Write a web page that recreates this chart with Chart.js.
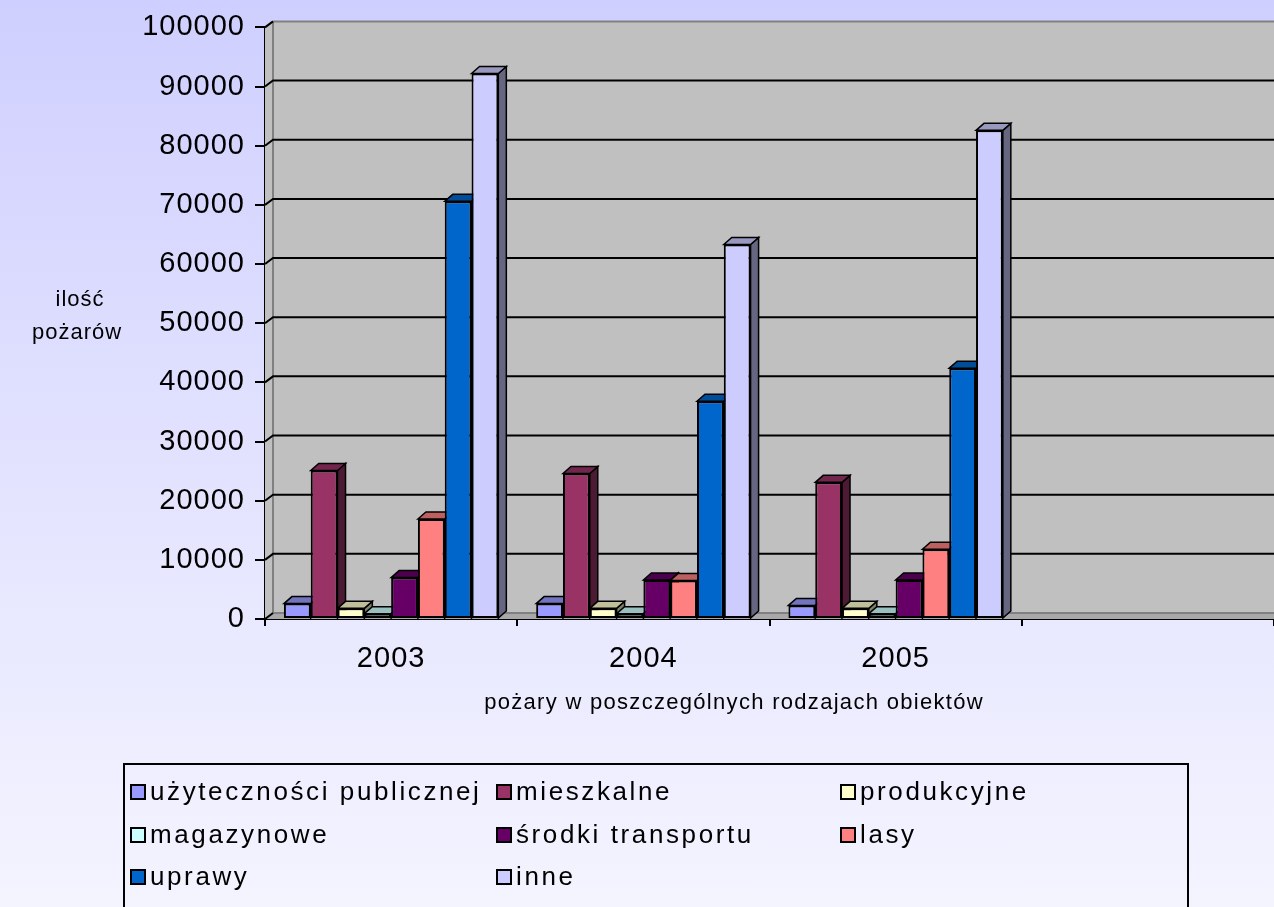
<!DOCTYPE html>
<html><head><meta charset="utf-8">
<script src="https://cdn.jsdelivr.net/npm/chart.js@4.4.1/dist/chart.umd.min.js"></script>
<style>
html,body{margin:0;padding:0;width:1274px;height:907px;overflow:hidden;
background:linear-gradient(to bottom,#CFCFFF 0%,#E2E2FF 50%,#F4F4FF 100%);}
canvas{display:block}
</style></head><body>
<canvas id="c" width="1274" height="907"></canvas>
<script>
// ---- data ----
const categories = ['2003', '2004', '2005', ''];
const seriesNames = ['użyteczności publicznej', 'mieszkalne', 'produkcyjne', 'magazynowe',
  'środki transportu', 'lasy', 'uprawy', 'inne'];
const uzytecznosciPublicznej = [2600, 2600, 2300];
const mieszkalne = [25100, 24600, 23100];
const produkcyjne = [1800, 1800, 1800];
const magazynowe = [900, 900, 900];
const srodkiTransportu = [7000, 6600, 6600];
const lasy = [16900, 6500, 11800];
const uprawy = [70600, 36800, 42400];
const inne = [92200, 63300, 82600];
const yTickValues = [0, 10000, 20000, 30000, 40000, 50000, 60000, 70000, 80000, 90000, 100000];
const yTitleLines = ['ilość', 'pożarów'];
const xTitle = 'pożary w poszczególnych rodzajach obiektów';
const seriesColors = ['#9999FF', '#993366', '#FFFFCC', '#CCFFFF', '#660066', '#FF8080', '#0066CC', '#CCCCFF'];

const seriesValues = [uzytecznosciPublicznej, mieszkalne, produkcyjne, magazynowe,
  srodkiTransportu, lasy, uprawy, inne];

function shade(hex, f) {
  const n = parseInt(hex.slice(1), 16);
  const r = Math.round(((n >> 16) & 255) * f), g = Math.round(((n >> 8) & 255) * f), b = Math.round((n & 255) * f);
  return `rgb(${r},${g},${b})`;
}

const FONT = '"Liberation Sans", Arial, sans-serif';
const DX = 8, DY = -6, BDY = -7;

function poly(ctx, pts, fill, stroke, lw) {
  ctx.beginPath();
  ctx.moveTo(pts[0][0], pts[0][1]);
  for (let i = 1; i < pts.length; i++) ctx.lineTo(pts[i][0], pts[i][1]);
  ctx.closePath();
  if (fill) { ctx.fillStyle = fill; ctx.fill(); }
  if (stroke) { ctx.strokeStyle = stroke; ctx.lineWidth = lw || 1; ctx.stroke(); }
}

const spacingPlugin = {
  id: 'spacing',
  beforeDraw(chart) { chart.ctx.letterSpacing = '1px'; }
};

const depthPlugin = {
  id: 'depth',
  beforeDatasetsDraw(chart) {
    const { ctx, chartArea: a, scales: { x, y } } = chart;
    ctx.save();
    ctx.lineJoin = 'miter';
    // back wall
    ctx.fillStyle = '#C0C0C0';
    ctx.fillRect(a.left + DX, a.top + DY, a.right - a.left - DX, a.bottom - a.top);
    // left wall
    poly(ctx, [[a.left, a.top], [a.left + DX, a.top + DY], [a.left + DX, a.bottom + DY], [a.left, a.bottom]], '#C0C0C0');
    // floor
    poly(ctx, [[a.left, a.bottom], [a.left + DX, a.bottom + DY], [a.right + 2, a.bottom + DY], [a.right + 2, a.bottom]], '#A8A8A8');
    ctx.strokeStyle = '#808080'; ctx.lineWidth = 2;
    ctx.beginPath();
    ctx.moveTo(a.left + DX, a.top + DY); ctx.lineTo(a.left + DX, a.bottom + DY); ctx.lineTo(a.right, a.bottom + DY);
    ctx.moveTo(a.left + DX, a.top + DY); ctx.lineTo(a.right, a.top + DY);
    ctx.stroke();
    // grid lines on back wall + diagonal links
    y.ticks.forEach(t => {
      const py = y.getPixelForValue(t.value);
      ctx.strokeStyle = '#000'; ctx.lineWidth = 2;
      ctx.beginPath();
      ctx.moveTo(a.left, py); ctx.lineTo(a.left + DX, py + DY);
      if (t.value > y.min && t.value < y.max) ctx.lineTo(a.right, py + DY);
      ctx.stroke();
    });
    // 3D side and top faces
    const n = chart.data.labels.length;
    for (let i = 0; i < n; i++) {
      chart.data.datasets.forEach((ds, d) => {
        const meta = chart.getDatasetMeta(d);
        const el = meta.data[i];
        if (!el || ds.data[i] == null) return;
        const p = el.getProps(['x', 'y', 'width', 'base'], true);
        const l = p.x - p.width / 2, r = p.x + p.width / 2, t = p.y, b = p.base;
        const col = seriesColors[d];
        poly(ctx, [[r, t], [r + DX, t + BDY], [r + DX, b + BDY], [r, b]], shade(col, 0.5), '#000', 1.5);
        poly(ctx, [[l, t], [l + DX, t + BDY], [r + DX, t + BDY], [r, t]], shade(col, 0.75), '#000', 1.5);
      });
    }
    ctx.restore();
  },
  afterDraw(chart) {
    const { ctx } = chart;
    ctx.save();
    ctx.fillStyle = '#000';
    ctx.textAlign = 'center';
    ctx.textBaseline = 'middle';
    ctx.letterSpacing = '1px';
    ctx.font = `22px ${FONT}`;
    ctx.fillText(yTitleLines[0], 80, 300);
    ctx.fillText(yTitleLines[1], 77, 333);
    ctx.letterSpacing = '1.3px';
    ctx.fillText(xTitle, 734, 703);
    // legend
    ctx.lineWidth = 2; ctx.strokeStyle = '#000';
    ctx.strokeRect(124, 764, 1064, 160);
    const cols = [131, 497, 841], rows = [792, 835, 877];
    ctx.textAlign = 'left';
    ctx.font = `26px ${FONT}`;
    ctx.letterSpacing = '2.6px';
    chart.data.datasets.forEach((ds, i) => {
      const cx = cols[i % 3], cy = rows[Math.floor(i / 3)];
      ctx.fillStyle = seriesColors[i];
      ctx.fillRect(cx, cy - 7, 14, 14);
      ctx.lineWidth = 2; ctx.strokeStyle = '#000';
      ctx.strokeRect(cx, cy - 7, 14, 14);
      ctx.fillStyle = '#000';
      ctx.fillText(ds.label, cx + 19, cy + 1);
    });
    ctx.restore();
  }
};

new Chart(document.getElementById('c'), {
  type: 'bar',
  data: {
    labels: categories,
    datasets: seriesNames.map((name, i) => ({
      label: name,
      data: seriesValues[i],
      backgroundColor: seriesColors[i],
      borderColor: '#000',
      borderWidth: 2,
      borderSkipped: false
    }))
  },
  options: {
    responsive: false,
    animation: false,
    devicePixelRatio: 1,
    layout: { autoPadding: false, padding: { top: 21, left: 0, right: 0, bottom: 0 } },
    categoryPercentage: 0.85,
    barPercentage: 1,
    plugins: { legend: { display: false }, tooltip: { enabled: false } },
    scales: {
      x: {
        afterFit(s) { s.height = 288; },
        grid: { drawOnChartArea: false, drawTicks: true, tickLength: 7, color: '#000', lineWidth: 2, offset: true },
        border: { display: true, color: '#000', width: 2 },
        ticks: { color: '#000', font: { family: FONT, size: 29 }, padding: 16, maxRotation: 0 }
      },
      y: {
        min: 0, max: 100000,
        afterFit(s) { s.width = 265; },
        afterBuildTicks(s) { s.ticks = yTickValues.map(v => ({ value: v })); },
        grid: { drawOnChartArea: false, drawTicks: true, tickLength: 10, color: '#000', lineWidth: 2 },
        border: { display: true, color: '#000', width: 2 },
        ticks: { color: '#000', font: { family: FONT, size: 29 }, padding: 10, callback: v => String(v) }
      }
    }
  },
  plugins: [spacingPlugin, depthPlugin]
});
</script>
</body></html>
